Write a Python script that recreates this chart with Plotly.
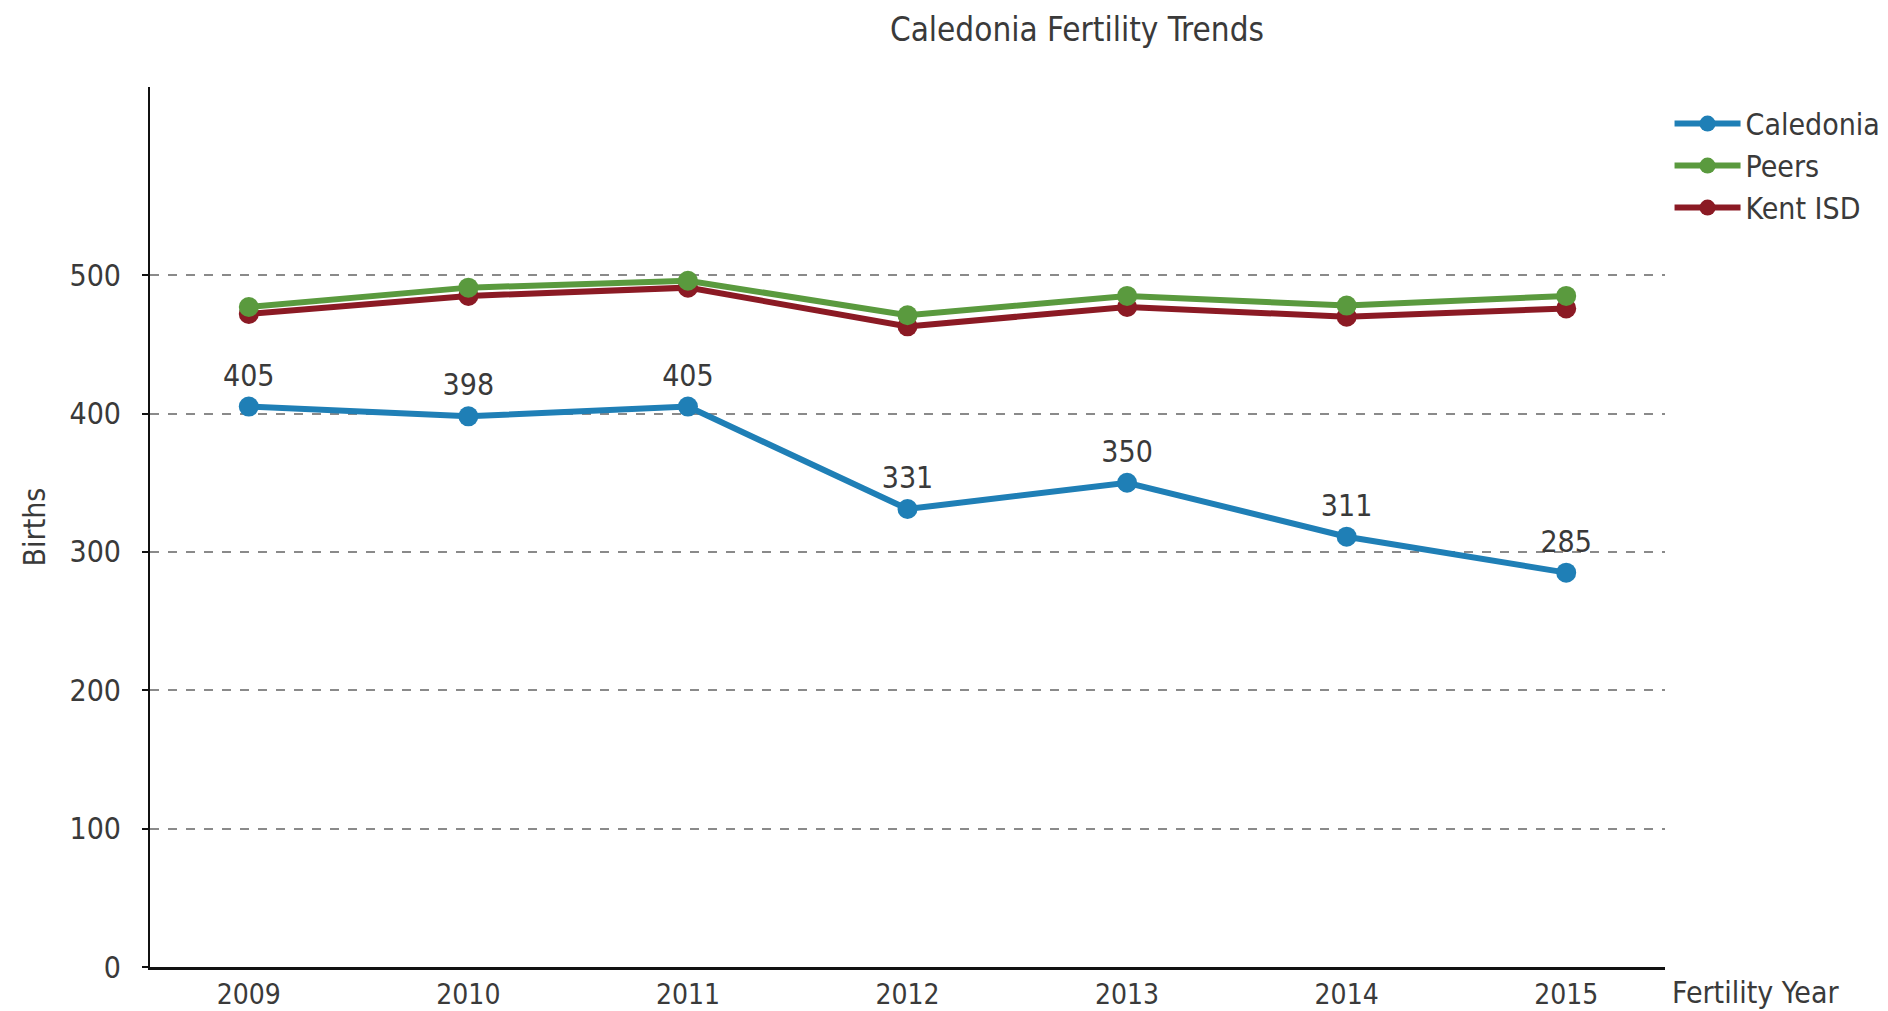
import plotly.graph_objects as go

years = [2009, 2010, 2011, 2012, 2013, 2014, 2015]
caledonia = [405, 398, 405, 331, 350, 311, 285]
peers = [477, 491, 496, 471, 485, 478, 485]
kent_isd = [472, 485, 491, 463, 477, 470, 476]

y_ticks = [0, 100, 200, 300, 400, 500]

FONT = "Liberation Sans Narrow, DejaVu Sans Condensed, Arial Narrow, sans-serif"
TEXT = "#3a3a3a"

series = [
    ("Caledonia", caledonia, "#1f7fb6"),
    ("Peers", peers, "#5a9a3e"),
    ("Kent ISD", kent_isd, "#8b1a24"),
]

fig = go.Figure()

# draw Caledonia last so it sits on top, but keep legend order
for name, vals, color in reversed(series):
    labelled = name == "Caledonia"
    fig.add_trace(go.Scatter(
        x=years, y=vals, name=name,
        mode="lines+markers+text" if labelled else "lines+markers",
        text=[str(v) for v in vals] if labelled else None,
        textposition="top center",
        textfont={"size": 30, "color": TEXT, "family": FONT},
        line={"color": color, "width": 6},
        marker={"color": color, "size": 20},
        legendrank={"Caledonia": 1, "Peers": 2, "Kent ISD": 3}[name],
    ))

fig.update_xaxes(
    range=[2008.55, 2015.45],
    tickvals=years,
    ticktext=[str(y) for y in years],
    showgrid=False,
    showline=True, linecolor="#111", linewidth=3,
    ticks="", zeroline=False, automargin=False,
    tickfont={"size": 28, "color": TEXT, "family": FONT},
)
fig.update_yaxes(
    range=[0, 636],
    tickvals=y_ticks,
    showgrid=True, gridcolor="#8a8a8a", gridwidth=1.5, griddash="dash",
    showline=True, linecolor="#111", linewidth=2,
    ticks="outside", ticklen=6, tickcolor="#111", tickwidth=2,
    ticklabelstandoff=15,
    zeroline=False, automargin=False,
    tickfont={"size": 30, "color": TEXT, "family": FONT},
    title={"text": "Births", "font": {"size": 30, "color": TEXT, "family": FONT}, "standoff": 15},
)

fig.add_annotation(
    text="Fertility Year", xref="paper", yref="paper",
    x=1.003, y=0, xanchor="left", yanchor="top", yshift=-6,
    showarrow=False,
    font={"size": 30, "color": TEXT, "family": FONT},
)

# page body keeps its default 8px margin, so the figure is 8px smaller
fig.update_layout(
    width=1880, height=1003,
    margin={"l": 142, "r": 223, "t": 79, "b": 44, "autoexpand": False},
    plot_bgcolor="white", paper_bgcolor="white",
    title={
        "text": "Caledonia Fertility Trends",
        "x": 0.5686, "xanchor": "center", "y": 0.979, "yanchor": "middle",
        "font": {"size": 33, "color": TEXT, "family": FONT},
    },
    legend={
        "x": 1.003, "y": 0.988, "xanchor": "left", "yanchor": "top",
        "font": {"size": 30, "color": TEXT, "family": FONT},
        "itemwidth": 66, "tracegroupgap": 0,
    },
    showlegend=True,
)

fig.write_html("out.html")
